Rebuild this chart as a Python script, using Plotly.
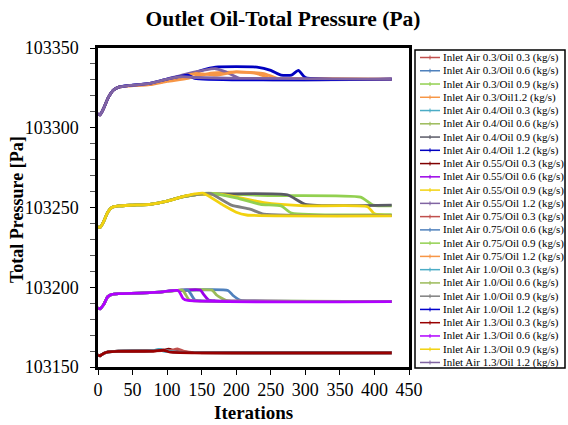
import plotly.graph_objects as go

# ---------------- data ----------------
names = [
    "Inlet Air 0.3/Oil 0.3 (kg/s)", "Inlet Air 0.3/Oil 0.6 (kg/s)", "Inlet Air 0.3/Oil 0.9 (kg/s)", "Inlet Air 0.3/Oil1.2 (kg/s)",
    "Inlet Air 0.4/Oil 0.3 (kg/s)", "Inlet Air 0.4/Oil 0.6 (kg/s)", "Inlet Air 0.4/Oil 0.9 (kg/s)", "Inlet Air 0.4/Oil 1.2 (kg/s)",
    "Inlet Air 0.55/Oil 0.3 (kg/s)", "Inlet Air 0.55/Oil 0.6 (kg/s)", "Inlet Air 0.55/Oil 0.9 (kg/s)", "Inlet Air 0.55/Oil 1.2 (kg/s)",
    "Inlet Air 0.75/Oil 0.3 (kg/s)", "Inlet Air 0.75/Oil 0.6 (kg/s)", "Inlet Air 0.75/Oil 0.9 (kg/s)", "Inlet Air 0.75/Oil 1.2 (kg/s)",
    "Inlet Air 1.0/Oil 0.3 (kg/s)", "Inlet Air 1.0/Oil 0.6 (kg/s)", "Inlet Air 1.0/Oil 0.9 (kg/s)", "Inlet Air 1.0/Oil 1.2 (kg/s)",
    "Inlet Air 1.3/Oil 0.3 (kg/s)", "Inlet Air 1.3/Oil 0.6 (kg/s)", "Inlet Air 1.3/Oil 0.9 (kg/s)", "Inlet Air 1.3/Oil 1.2 (kg/s)",
]
colors = [
    "#C0504D", "#4F81BD", "#92D050", "#F79646",
    "#4BACC6", "#9BBB59", "#5A5A66", "#0000C0",
    "#800000", "#9900E6", "#F2D20F", "#8064A2",
    "#C0504D", "#4F81BD", "#92D050", "#F79646",
    "#4BACC6", "#9BBB59", "#7F7F7F", "#0000CC",
    "#990000", "#B000FF", "#F2D20F", "#8064A2",
]

# Oil 0.3 group
x_a03_o03 = [0, 3, 8, 15, 30, 80, 90, 100, 120, 140, 425]
y_a03_o03 = [103157.5, 103157, 103158.5, 103159.5, 103160, 103160, 103160.5, 103160, 103159.5, 103159, 103158.8]
x_a04_o03 = [0, 3, 8, 15, 30, 80, 88, 95, 110, 140, 425]
y_a04_o03 = [103157.5, 103157, 103158.5, 103159.5, 103160, 103160.2, 103161, 103160, 103159.5, 103159, 103158.8]
x_a055_o03 = [0, 3, 8, 15, 30, 80, 95, 102, 115, 140, 425]
y_a055_o03 = [103157.5, 103157, 103158.5, 103159.5, 103160, 103160.2, 103160.5, 103161.2, 103159.6, 103159, 103158.8]
x_a075_o03 = [0, 3, 8, 15, 30, 80, 105, 115, 125, 140, 425]
y_a075_o03 = [103157.5, 103157, 103158.5, 103159.5, 103160, 103160.2, 103160.4, 103161.3, 103159.8, 103159, 103158.8]
x_a10_o03 = [0, 3, 8, 15, 30, 80, 90, 98, 110, 140, 425]
y_a10_o03 = [103157.5, 103157, 103158.5, 103159.5, 103160, 103160.3, 103161, 103160.2, 103159.5, 103159, 103158.8]
x_a13_o03 = [0, 3, 8, 15, 30, 80, 95, 105, 140, 425]
y_a13_o03 = [103157.5, 103157, 103158.5, 103159.5, 103159.8, 103160, 103160.5, 103159.3, 103158.9, 103158.8]

# Oil 0.6 group
x_a03_o06 = [0, 3, 8, 14, 20, 30, 60, 90, 115, 188, 195, 205, 215, 425]
y_a03_o06 = [103187, 103186.5, 103189, 103194, 103195.5, 103196, 103196.3, 103197, 103198, 103198, 103195, 103192, 103191.5, 103191]
x_a04_o06 = [0, 3, 8, 14, 20, 30, 60, 90, 115, 165, 172, 185, 195, 425]
y_a04_o06 = [103187, 103186.5, 103189, 103194, 103195.5, 103196, 103196.3, 103197, 103198, 103198.2, 103195, 103191.8, 103191.5, 103191]
x_a055_o06 = [0, 3, 8, 14, 20, 30, 60, 90, 115, 148, 152, 160, 170, 425]
y_a055_o06 = [103187, 103186.5, 103189, 103194, 103195.5, 103196, 103196.3, 103197, 103198, 103198.3, 103196, 103192, 103191.5, 103191]
x_a075_o06 = [0, 3, 8, 14, 20, 30, 60, 90, 115, 130, 134, 140, 150, 425]
y_a075_o06 = [103187, 103186.5, 103189, 103194, 103195.5, 103196, 103196.3, 103197, 103198, 103198.3, 103196, 103192, 103191.5, 103191]
x_a10_o06 = [0, 3, 8, 14, 20, 30, 60, 90, 115, 122, 126, 132, 140, 425]
y_a10_o06 = [103187, 103186.5, 103189, 103194, 103195.5, 103196, 103196.3, 103197, 103198, 103198.3, 103196, 103192, 103191.5, 103191]
x_a13_o06 = [0, 3, 8, 14, 20, 30, 60, 90, 115, 118, 123, 130, 425]
y_a13_o06 = [103187, 103186.5, 103189, 103194, 103195.5, 103196, 103196.3, 103197, 103198, 103197, 103193, 103191.7, 103191]

# Oil 0.9 group
x_a03_o09 = [0, 3, 8, 14, 20, 30, 50, 75, 100, 120, 140, 170, 250, 380, 398, 425]
y_a03_o09 = [103238, 103237.5, 103241, 103247, 103250, 103251, 103251.5, 103252, 103254, 103256.5, 103258, 103258.5, 103257.5, 103256.5, 103251.5, 103251]
x_a04_o09 = [0, 3, 8, 14, 20, 30, 50, 75, 100, 120, 140, 170, 274, 300, 425]
y_a04_o09 = [103238, 103237.5, 103241, 103247, 103250, 103251, 103251.5, 103252, 103254, 103256.5, 103258, 103258.5, 103258, 103252, 103251.5]
x_a055_o09 = [0, 3, 8, 14, 20, 30, 50, 75, 100, 120, 140, 170, 190, 240, 300, 390, 400, 425]
y_a055_o09 = [103238, 103237.5, 103241, 103247, 103250, 103251, 103251.5, 103252, 103254, 103256.5, 103258, 103258.5, 103257.5, 103253, 103251, 103250.5, 103246, 103245]
x_a075_o09 = [0, 3, 8, 14, 20, 30, 50, 75, 100, 120, 140, 160, 200, 235, 265, 280, 425]
y_a075_o09 = [103238, 103237.5, 103241, 103247, 103250, 103251, 103251.5, 103252, 103254, 103256.5, 103258, 103259, 103256, 103252, 103251, 103246.5, 103245.5]
x_a10_o09 = [0, 3, 8, 14, 20, 30, 50, 75, 100, 120, 140, 162, 193, 220, 240, 425]
y_a10_o09 = [103238, 103237.5, 103241, 103247, 103250, 103251, 103251.5, 103252, 103254, 103256.5, 103258, 103258.8, 103251.5, 103249, 103245.8, 103245]
x_a13_o09 = [0, 3, 8, 14, 20, 30, 50, 75, 100, 120, 140, 152, 181, 200, 215, 425]
y_a13_o09 = [103238, 103237.5, 103241, 103247, 103250, 103251, 103251.5, 103252, 103254, 103256.5, 103258.5, 103259, 103251.5, 103247, 103245.3, 103244.7]

# Oil 1.2 group
x_a03_o12 = [0, 3, 8, 15, 22, 30, 45, 75, 100, 130, 160, 200, 240, 260, 300, 425]
y_a03_o12 = [103309, 103308, 103312, 103319, 103323.5, 103325.5, 103326.3, 103327, 103329, 103331, 103334, 103335, 103334, 103331, 103331, 103330.5]
x_a04_o12 = [0, 3, 8, 15, 22, 30, 45, 75, 100, 130, 150, 170, 230, 250, 265, 280, 290, 300, 425]
y_a04_o12 = [103309, 103308, 103312, 103319, 103323.5, 103325.5, 103326.5, 103327.5, 103330, 103333, 103336, 103338, 103338, 103336, 103333, 103333, 103336, 103331.5, 103330.5]
x_a055_o12 = [0, 3, 8, 15, 22, 30, 45, 75, 100, 130, 170, 185, 205, 425]
y_a055_o12 = [103309, 103308, 103312, 103319, 103323.5, 103325.5, 103326.5, 103327.8, 103330.5, 103334, 103337, 103335, 103331, 103330.5]
x_a075_o12 = [0, 3, 8, 15, 22, 30, 45, 75, 100, 140, 170, 200, 230, 250, 425]
y_a075_o12 = [103309, 103308, 103312, 103319, 103323.5, 103325.5, 103326.3, 103327.2, 103329.5, 103334, 103333, 103335, 103334, 103331, 103330.5]
x_a10_o12 = [0, 3, 8, 15, 22, 30, 45, 75, 100, 130, 140, 210, 425]
y_a10_o12 = [103309, 103308, 103312, 103319, 103323.5, 103325.5, 103326.5, 103327.8, 103330.5, 103333, 103331, 103330, 103330.5]
x_a13_o12 = [0, 3, 8, 15, 22, 30, 45, 75, 100, 120, 140, 200, 425]
y_a13_o12 = [103309, 103308, 103312, 103319, 103323.5, 103325.5, 103326.5, 103327.8, 103330.5, 103332, 103331.5, 103331, 103330.5]

series_x = [
    x_a03_o03, x_a03_o06, x_a03_o09, x_a03_o12,
    x_a04_o03, x_a04_o06, x_a04_o09, x_a04_o12,
    x_a055_o03, x_a055_o06, x_a055_o09, x_a055_o12,
    x_a075_o03, x_a075_o06, x_a075_o09, x_a075_o12,
    x_a10_o03, x_a10_o06, x_a10_o09, x_a10_o12,
    x_a13_o03, x_a13_o06, x_a13_o09, x_a13_o12,
]
series_y = [
    y_a03_o03, y_a03_o06, y_a03_o09, y_a03_o12,
    y_a04_o03, y_a04_o06, y_a04_o09, y_a04_o12,
    y_a055_o03, y_a055_o06, y_a055_o09, y_a055_o12,
    y_a075_o03, y_a075_o06, y_a075_o09, y_a075_o12,
    y_a10_o03, y_a10_o06, y_a10_o09, y_a10_o12,
    y_a13_o03, y_a13_o06, y_a13_o09, y_a13_o12,
]

x_ticks = [0, 50, 100, 150, 200, 250, 300, 350, 400, 450]
y_ticks = [103150, 103200, 103250, 103300, 103350]

# ---------------- figure ----------------
W, H = 568, 425
L, R, T, B = 98, 409, 48, 367
FONT = "Liberation Serif, Times New Roman, serif"

def px2x(px):
    return (px - L) / (R - L)

def py2y(py):
    return (B - py) / (B - T)

fig = go.Figure()
for xs, ys, nm, c in zip(series_x, series_y, names, colors):
    fig.add_trace(go.Scatter(x=xs, y=ys, name=nm, mode="lines",
                             line=dict(color=c, width=2.8, shape="spline", smoothing=0.5),
                             showlegend=False))

fig.update_layout(
    width=W, height=H,
    margin=dict(l=L, r=W - R, t=T, b=H - B),
    paper_bgcolor="white", plot_bgcolor="white",
    font=dict(family=FONT, color="black"),
    title=dict(text="<b>Outlet Oil-Total Pressure (Pa)</b>", x=283 / W, xanchor="center",
               y=1 - 18 / H, yanchor="middle", font=dict(size=21.5, family=FONT)),
    showlegend=False,
)
fig.update_xaxes(range=[0, 450], tickvals=x_ticks, ticks="outside", ticklen=5, tickwidth=1,
                 tickcolor="black", showgrid=False, zeroline=False,
                 showline=True, linecolor="black", linewidth=2.5, mirror=True,
                 tickfont=dict(size=18, family=FONT), ticklabelstandoff=0)
fig.update_yaxes(range=[103150, 103350], tickvals=y_ticks, ticks="outside", ticklen=5, tickwidth=1,
                 tickcolor="black", showgrid=False, zeroline=False,
                 showline=True, linecolor="black", linewidth=2.5, mirror=True,
                 tickformat="d", tickfont=dict(size=18, family=FONT), ticklabelstandoff=8,
                 minor=dict(dtick=10, ticks="outside", ticklen=5, tickcolor="#555555", showgrid=False))

annotations = [
    dict(text="<b>Total Pressure [Pa]</b>", xref="paper", yref="paper", x=px2x(17), y=py2y(210),
         textangle=-90, showarrow=False, font=dict(size=18, family=FONT), xanchor="center", yanchor="middle"),
    dict(text="<b>Iterations</b>", xref="paper", yref="paper", x=px2x(253), y=py2y(412),
         showarrow=False, font=dict(size=19, family=FONT), xanchor="center", yanchor="middle"),
]
shapes = [
    dict(type="rect", xref="paper", yref="paper", x0=px2x(415), x1=px2x(565), y0=py2y(368), y1=py2y(50),
         line=dict(color="black", width=1.5), fillcolor="white", layer="below"),
]
y0_leg, dy_leg = 57.5, 13.26
for i, (nm, c) in enumerate(zip(names, colors)):
    yy = py2y(y0_leg + i * dy_leg)
    shapes.append(dict(type="line", xref="paper", yref="paper", x0=px2x(420), x1=px2x(440), y0=yy, y1=yy,
                       line=dict(color=c, width=1.5)))
    shapes.append(dict(type="line", xref="paper", yref="paper", x0=px2x(430), x1=px2x(430),
                       y0=yy - 2 / (B - T), y1=yy + 2 / (B - T), line=dict(color=c, width=1)))
    annotations.append(dict(text=nm, xref="paper", yref="paper", x=px2x(441), y=yy, showarrow=False,
                            xanchor="left", yanchor="middle", font=dict(size=11, family=FONT)))
fig.update_layout(annotations=annotations, shapes=shapes)

fig.write_html("out.html")
